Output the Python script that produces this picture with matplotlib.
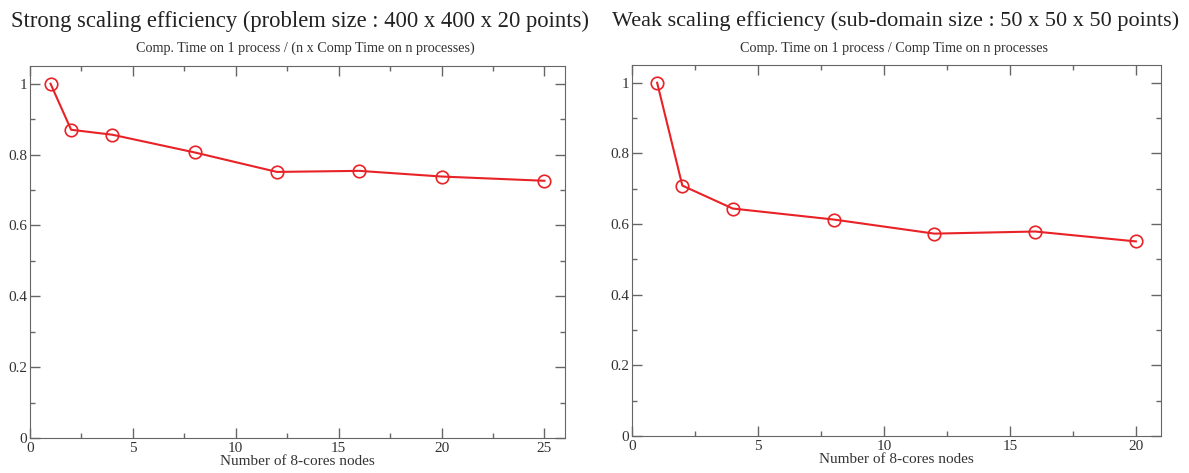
import matplotlib
matplotlib.use("Agg")
import matplotlib.pyplot as plt
from matplotlib.ticker import MultipleLocator

plt.rcParams["font.family"] = ["Liberation Serif", "DejaVu Serif"]

# strong scaling
strong_nodes = [1, 2, 4, 8, 12, 16, 20, 25]
strong_eff = [1.0, 0.87, 0.856, 0.806, 0.751, 0.754, 0.738, 0.726]

# weak scaling
weak_nodes = [1, 2, 4, 8, 12, 16, 20]
weak_eff = [1.0, 0.709, 0.644, 0.613, 0.573, 0.579, 0.551]

fig = plt.figure(figsize=(11.89, 4.73), dpi=100)
ax1 = fig.add_axes([0.0252, 0.074, 0.450, 0.7865])
ax2 = fig.add_axes([0.5315, 0.078, 0.445, 0.7844])


def style(ax, xmax):
    ax.set_xlim(0, xmax)
    ax.set_ylim(0, 1.05)
    ax.xaxis.set_major_locator(MultipleLocator(5))
    ax.xaxis.set_minor_locator(MultipleLocator(2.5))
    ax.yaxis.set_major_locator(MultipleLocator(0.2))
    ax.yaxis.set_minor_locator(MultipleLocator(0.1))
    ax.tick_params(which="both", direction="in", top=True, right=True,
                   labelsize=11, color="#666666", labelcolor="#333333", pad=2)
    ax.tick_params(axis="x", pad=3)
    ax.tick_params(which="major", length=7.5, width=1)
    ax.tick_params(which="minor", length=3.8, width=1)
    ax.yaxis.set_major_formatter(plt.FuncFormatter(lambda v, p: f"{v:g}"))
    for s in ax.spines.values():
        s.set_color("#666666")
    ax.set_xlabel("Number of 8-cores nodes", fontsize=11, labelpad=0,
                  color="#333333")


ax1.plot(strong_nodes, strong_eff, color="#e82226", lw=1.5, marker="o",
         ms=9, mfc="none", mec="#e82226", mew=1.2)
style(ax1, 26)
fig.text(0.252, 0.955, "Strong scaling efficiency (problem size : 400 x 400 x 20 points)",
         ha="center", va="center", fontsize=16.3, color="#222222")
fig.text(0.257, 0.898, "Comp. Time on 1 process / (n x Comp Time on n processes)",
         ha="center", va="center", fontsize=10.2, color="#333333")

ax2.plot(weak_nodes, weak_eff, color="#e82226", lw=1.5, marker="o",
         ms=9, mfc="none", mec="#e82226", mew=1.2)
style(ax2, 21)
fig.text(0.7535, 0.955, "Weak scaling efficiency (sub-domain size : 50 x 50 x 50 points)",
         ha="center", va="center", fontsize=16, color="#222222")
fig.text(0.752, 0.898, "Comp. Time on 1 process / Comp Time on n processes",
         ha="center", va="center", fontsize=10.2, color="#333333")

fig.savefig("out.png", dpi=100)
